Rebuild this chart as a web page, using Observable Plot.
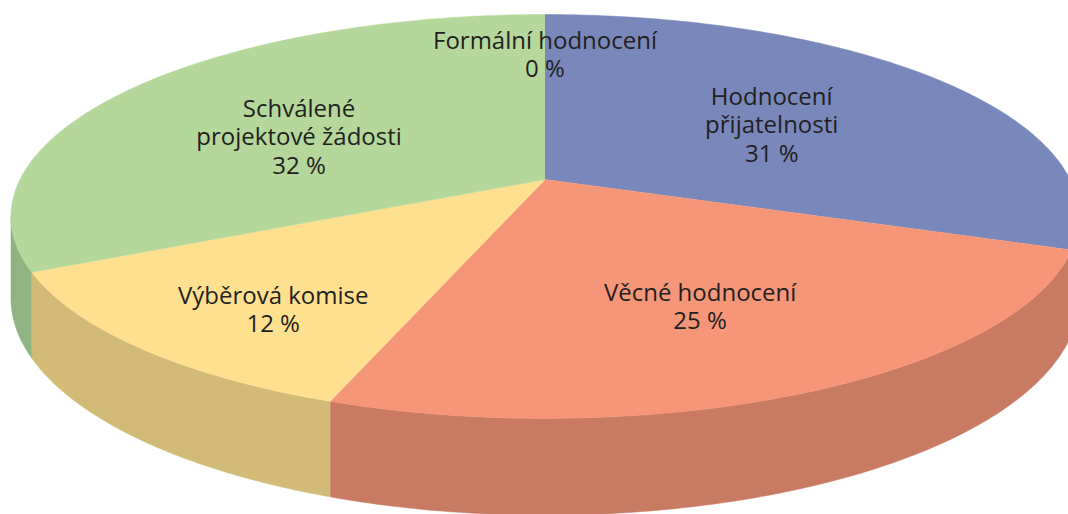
<!DOCTYPE html>
<html>
<head>
<meta charset="utf-8">
<style>html,body{margin:0;padding:0;background:#fff}svg{display:block}</style>
<script src="https://cdn.jsdelivr.net/npm/d3@7"></script>
<script src="https://cdn.jsdelivr.net/npm/@observablehq/plot@0.6"></script>
</head>
<body>
<script>
// Data, clockwise from twelve o'clock
const categories = ["Formální hodnocení", "Hodnocení\npřijatelnosti", "Věcné hodnocení", "Výběrová komise", "Schválené\nprojektové žádosti"];
const shares = [0, 30.5, 25.0, 12.3, 32.2];
const topColors = ["#B4D89B", "#7888BB", "#F69679", "#FFE08F", "#B4D89B"];
const sideColors = ["#8FB382", "#66749F", "#C87A62", "#D2BB77", "#8FB382"];
// Label placement on the disc: angle in degrees and fraction of the radius
const labelAngle = [0, 56.7, 155.5, 218, 295.3];
const labelRadius = [0.73, 0.545, 0.637, 0.75, 0.54];

// Perspective view of a tilted disc
const k = 0.183, depth = 0.405;
const unitX = 525, unitY = 195.2, width = 1068, height = 514, cx = 544.5, cy = 179;
const project = (deg, r = 1, z = 0) => {
  const t = deg * Math.PI / 180, X = r * Math.sin(t), Y = r * Math.cos(t), w = 1 + k * Y;
  return {x: X / w, y: (Y - z) / w};
};
const cum = d3.cumsum(shares);
const ranges = shares.map((s, i) => [(cum[i] - s) * 3.6, cum[i] * 3.6]);
const arc = ([a, b], z) => d3.range(0, 121).map(i => project(a + (b - a) * i / 120, 1, z));

const tops = [], sides = [];
const edge = Math.acos(-k) * 180 / Math.PI; // limb of the disc
ranges.forEach(([a, b], i) => {
  if (b <= a) return;
  tops.push(...[project(0, 0), ...arc([a, b], 0)].map(p => ({...p, key: "t" + i})));
  const lo = Math.max(a, edge), hi = Math.min(b, 360 - edge);
  if (hi > lo) sides.push(...[...arc([lo, hi], 0), ...arc([lo, hi], depth).reverse()].map(p => ({...p, key: "s" + i})));
});
const labels = categories.map((c, i) => ({
  ...project(labelAngle[i], labelRadius[i]),
  text: `${c}\n${Math.round(shares[i])} %`
}));

const plot = Plot.plot({
  width, height,
  margin: 0,
  style: {background: "#fff", overflow: "hidden"},
  x: {domain: [-cx / unitX, (width - cx) / unitX], range: [0, width], axis: null},
  y: {domain: [cy / unitY, (cy - height) / unitY], range: [0, height], axis: null},
  color: {
    domain: [...categories.map((_, i) => "s" + i), ...categories.map((_, i) => "t" + i)],
    range: [...sideColors, ...topColors]
  },
  marks: [
    Plot.line(sides, {x: "x", y: "y", z: "key", fill: "key", stroke: "key", strokeWidth: 0.5}),
    Plot.line(tops, {x: "x", y: "y", z: "key", fill: "key", stroke: "key", strokeWidth: 0.5}),
    Plot.text(labels, {x: "x", y: "y", text: "text", fontFamily: "Open Sans", fontSize: 24, lineHeight: 1.19, fill: "#231f20", textAnchor: "middle"})
  ]
});
document.body.appendChild(plot);
</script>
</body>
</html>
